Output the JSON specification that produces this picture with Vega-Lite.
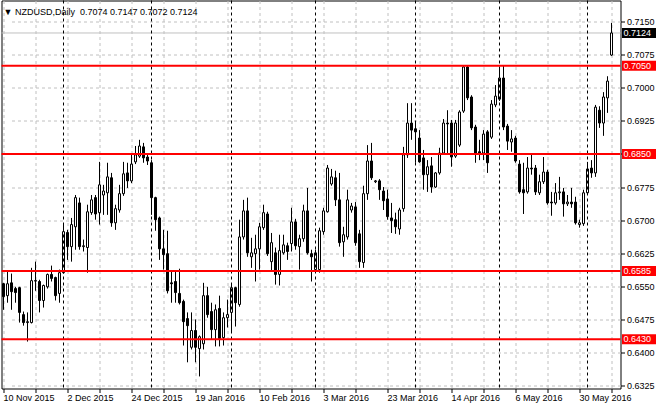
{
  "$schema": "https://vega.github.io/schema/vega-lite/v6.json",
  "width": 619,
  "height": 388,
  "autosize": "none",
  "padding": {"left": 1.5, "top": 0.5, "right": 39.5, "bottom": 21.5},
  "background": "#ffffff",
  "title": {"text": "▼ NZDUSD,Daily\u00a0\u00a00.7074 0.7147 0.7072 0.7124", "anchor": "start", "frame": "group", "orient": "top", "offset": -14, "dy": 10, "baseline": "alphabetic", "fontSize": 9, "fontWeight": "normal", "color": "#000000", "font": "Liberation Sans", "dx": 2},
  "config": {
    "view": {"stroke": "#000000", "strokeWidth": 1},
    "font": "Liberation Sans"
  },
  "datasets": {
    "candles": [
      {"d":"2015-11-10","o":0.6556,"h":0.6558,"l":0.6497,"c":0.6527},
      {"d":"2015-11-11","o":0.6529,"h":0.6583,"l":0.6513,"c":0.6556},
      {"d":"2015-11-12","o":0.6558,"h":0.6579,"l":0.6497,"c":0.6538},
      {"d":"2015-11-13","o":0.6545,"h":0.6549,"l":0.6513,"c":0.6536},
      {"d":"2015-11-16","o":0.6547,"h":0.6549,"l":0.6468,"c":0.6491},
      {"d":"2015-11-17","o":0.6486,"h":0.6493,"l":0.6461,"c":0.6468},
      {"d":"2015-11-18","o":0.6468,"h":0.6491,"l":0.6425,"c":0.6470},
      {"d":"2015-11-19","o":0.6468,"h":0.6592,"l":0.6466,"c":0.6563},
      {"d":"2015-11-20","o":0.6563,"h":0.6606,"l":0.6540,"c":0.6562},
      {"d":"2015-11-23","o":0.6561,"h":0.6565,"l":0.6491,"c":0.6518},
      {"d":"2015-11-24","o":0.6518,"h":0.6554,"l":0.6502,"c":0.6552},
      {"d":"2015-11-25","o":0.6549,"h":0.6579,"l":0.6545,"c":0.6577},
      {"d":"2015-11-26","o":0.6577,"h":0.6597,"l":0.6561,"c":0.6568},
      {"d":"2015-11-27","o":0.6570,"h":0.6572,"l":0.6518,"c":0.6529},
      {"d":"2015-11-30","o":0.6534,"h":0.6588,"l":0.6513,"c":0.6581},
      {"d":"2015-12-01","o":0.6581,"h":0.6692,"l":0.6579,"c":0.6674},
      {"d":"2015-12-02","o":0.6672,"h":0.6678,"l":0.6610,"c":0.6640},
      {"d":"2015-12-03","o":0.6640,"h":0.6705,"l":0.6606,"c":0.6690},
      {"d":"2015-12-04","o":0.6685,"h":0.6757,"l":0.6633,"c":0.6751},
      {"d":"2015-12-07","o":0.6739,"h":0.6751,"l":0.6633,"c":0.6640},
      {"d":"2015-12-08","o":0.6640,"h":0.6656,"l":0.6629,"c":0.6642},
      {"d":"2015-12-09","o":0.6638,"h":0.6735,"l":0.6581,"c":0.6719},
      {"d":"2015-12-10","o":0.6717,"h":0.6757,"l":0.6712,"c":0.6746},
      {"d":"2015-12-11","o":0.6751,"h":0.6757,"l":0.6701,"c":0.6714},
      {"d":"2015-12-14","o":0.6717,"h":0.6832,"l":0.6690,"c":0.6780},
      {"d":"2015-12-15","o":0.6757,"h":0.6780,"l":0.6712,"c":0.6766},
      {"d":"2015-12-16","o":0.6762,"h":0.6830,"l":0.6712,"c":0.6798},
      {"d":"2015-12-17","o":0.6796,"h":0.6807,"l":0.6685,"c":0.6694},
      {"d":"2015-12-18","o":0.6694,"h":0.6735,"l":0.6678,"c":0.6726},
      {"d":"2015-12-21","o":0.6723,"h":0.6780,"l":0.6717,"c":0.6760},
      {"d":"2015-12-22","o":0.6760,"h":0.6832,"l":0.6755,"c":0.6805},
      {"d":"2015-12-23","o":0.6807,"h":0.6830,"l":0.6773,"c":0.6789},
      {"d":"2015-12-24","o":0.6789,"h":0.6848,"l":0.6784,"c":0.6827},
      {"d":"2015-12-28","o":0.6832,"h":0.6868,"l":0.6827,"c":0.6848},
      {"d":"2015-12-29","o":0.6845,"h":0.6882,"l":0.6841,"c":0.6868},
      {"d":"2015-12-30","o":0.6866,"h":0.6875,"l":0.6830,"c":0.6841},
      {"d":"2015-12-31","o":0.6843,"h":0.6852,"l":0.6825,"c":0.6834},
      {"d":"2016-01-04","o":0.6830,"h":0.6836,"l":0.6712,"c":0.6751},
      {"d":"2016-01-05","o":0.6751,"h":0.6753,"l":0.6676,"c":0.6701},
      {"d":"2016-01-06","o":0.6705,"h":0.6708,"l":0.6610,"c":0.6635},
      {"d":"2016-01-07","o":0.6635,"h":0.6678,"l":0.6588,"c":0.6622},
      {"d":"2016-01-08","o":0.6624,"h":0.6676,"l":0.6534,"c":0.6540},
      {"d":"2016-01-11","o":0.6558,"h":0.6583,"l":0.6513,"c":0.6556},
      {"d":"2016-01-12","o":0.6561,"h":0.6583,"l":0.6513,"c":0.6536},
      {"d":"2016-01-13","o":0.6534,"h":0.6590,"l":0.6509,"c":0.6513},
      {"d":"2016-01-14","o":0.6516,"h":0.6520,"l":0.6416,"c":0.6470},
      {"d":"2016-01-15","o":0.6477,"h":0.6491,"l":0.6378,"c":0.6461},
      {"d":"2016-01-18","o":0.6412,"h":0.6491,"l":0.6407,"c":0.6450},
      {"d":"2016-01-19","o":0.6450,"h":0.6475,"l":0.6378,"c":0.6412},
      {"d":"2016-01-20","o":0.6409,"h":0.6439,"l":0.6346,"c":0.6436},
      {"d":"2016-01-21","o":0.6420,"h":0.6558,"l":0.6407,"c":0.6529},
      {"d":"2016-01-22","o":0.6529,"h":0.6549,"l":0.6479,"c":0.6486},
      {"d":"2016-01-25","o":0.6493,"h":0.6513,"l":0.6430,"c":0.6452},
      {"d":"2016-01-26","o":0.6452,"h":0.6509,"l":0.6414,"c":0.6497},
      {"d":"2016-01-27","o":0.6500,"h":0.6529,"l":0.6414,"c":0.6432},
      {"d":"2016-01-28","o":0.6434,"h":0.6491,"l":0.6416,"c":0.6479},
      {"d":"2016-01-29","o":0.6479,"h":0.6520,"l":0.6457,"c":0.6486},
      {"d":"2016-02-01","o":0.6491,"h":0.6554,"l":0.6445,"c":0.6547},
      {"d":"2016-02-02","o":0.6547,"h":0.6549,"l":0.6459,"c":0.6513},
      {"d":"2016-02-03","o":0.6509,"h":0.6701,"l":0.6504,"c":0.6662},
      {"d":"2016-02-04","o":0.6662,"h":0.6746,"l":0.6656,"c":0.6721},
      {"d":"2016-02-05","o":0.6721,"h":0.6751,"l":0.6617,"c":0.6626},
      {"d":"2016-02-08","o":0.6617,"h":0.6660,"l":0.6592,"c":0.6626},
      {"d":"2016-02-09","o":0.6624,"h":0.6667,"l":0.6561,"c":0.6635},
      {"d":"2016-02-10","o":0.6635,"h":0.6694,"l":0.6588,"c":0.6685},
      {"d":"2016-02-11","o":0.6683,"h":0.6735,"l":0.6678,"c":0.6717},
      {"d":"2016-02-12","o":0.6714,"h":0.6719,"l":0.6619,"c":0.6624},
      {"d":"2016-02-15","o":0.6606,"h":0.6671,"l":0.6583,"c":0.6649},
      {"d":"2016-02-16","o":0.6626,"h":0.6638,"l":0.6554,"c":0.6577},
      {"d":"2016-02-17","o":0.6577,"h":0.6667,"l":0.6552,"c":0.6631},
      {"d":"2016-02-18","o":0.6626,"h":0.6667,"l":0.6622,"c":0.6644},
      {"d":"2016-02-19","o":0.6642,"h":0.6649,"l":0.6610,"c":0.6629},
      {"d":"2016-02-22","o":0.6647,"h":0.6728,"l":0.6629,"c":0.6696},
      {"d":"2016-02-23","o":0.6696,"h":0.6703,"l":0.6633,"c":0.6642},
      {"d":"2016-02-24","o":0.6640,"h":0.6667,"l":0.6588,"c":0.6658},
      {"d":"2016-02-25","o":0.6658,"h":0.6735,"l":0.6651,"c":0.6721},
      {"d":"2016-02-26","o":0.6721,"h":0.6773,"l":0.6622,"c":0.6626},
      {"d":"2016-02-29","o":0.6624,"h":0.6633,"l":0.6561,"c":0.6617},
      {"d":"2016-03-01","o":0.6588,"h":0.6633,"l":0.6583,"c":0.6626},
      {"d":"2016-03-02","o":0.6588,"h":0.6683,"l":0.6581,"c":0.6676},
      {"d":"2016-03-03","o":0.6674,"h":0.6728,"l":0.6667,"c":0.6721},
      {"d":"2016-03-04","o":0.6719,"h":0.6825,"l":0.6717,"c":0.6818},
      {"d":"2016-03-06","o":0.6782,"h":0.6816,"l":0.6778,"c":0.6798},
      {"d":"2016-03-07","o":0.6796,"h":0.6812,"l":0.6732,"c":0.6746},
      {"d":"2016-03-08","o":0.6746,"h":0.6807,"l":0.6640,"c":0.6649},
      {"d":"2016-03-09","o":0.6651,"h":0.6685,"l":0.6617,"c":0.6667},
      {"d":"2016-03-10","o":0.6662,"h":0.6769,"l":0.6656,"c":0.6746},
      {"d":"2016-03-11","o":0.6723,"h":0.6739,"l":0.6717,"c":0.6732},
      {"d":"2016-03-13","o":0.6730,"h":0.6741,"l":0.6642,"c":0.6649},
      {"d":"2016-03-14","o":0.6669,"h":0.6678,"l":0.6592,"c":0.6606},
      {"d":"2016-03-15","o":0.6604,"h":0.6778,"l":0.6592,"c":0.6760},
      {"d":"2016-03-16","o":0.6760,"h":0.6870,"l":0.6746,"c":0.6834},
      {"d":"2016-03-17","o":0.6834,"h":0.6875,"l":0.6791,"c":0.6796},
      {"d":"2016-03-18","o":0.6787,"h":0.6791,"l":0.6784,"c":0.6789},
      {"d":"2016-03-21","o":0.6789,"h":0.6793,"l":0.6746,"c":0.6769},
      {"d":"2016-03-22","o":0.6766,"h":0.6775,"l":0.6723,"c":0.6744},
      {"d":"2016-03-23","o":0.6748,"h":0.6769,"l":0.6701,"c":0.6708},
      {"d":"2016-03-24","o":0.6705,"h":0.6739,"l":0.6671,"c":0.6699},
      {"d":"2016-03-25","o":0.6701,"h":0.6717,"l":0.6669,"c":0.6685},
      {"d":"2016-03-28","o":0.6680,"h":0.6728,"l":0.6667,"c":0.6723},
      {"d":"2016-03-29","o":0.6726,"h":0.6866,"l":0.6719,"c":0.6848},
      {"d":"2016-03-30","o":0.6848,"h":0.6965,"l":0.6841,"c":0.6920},
      {"d":"2016-03-31","o":0.6920,"h":0.6965,"l":0.6882,"c":0.6904},
      {"d":"2016-04-01","o":0.6907,"h":0.6922,"l":0.6830,"c":0.6900},
      {"d":"2016-04-04","o":0.6886,"h":0.6904,"l":0.6830,"c":0.6832},
      {"d":"2016-04-05","o":0.6841,"h":0.6859,"l":0.6769,"c":0.6803},
      {"d":"2016-04-06","o":0.6803,"h":0.6836,"l":0.6764,"c":0.6821},
      {"d":"2016-04-07","o":0.6823,"h":0.6843,"l":0.6762,"c":0.6775},
      {"d":"2016-04-08","o":0.6775,"h":0.6809,"l":0.6773,"c":0.6807},
      {"d":"2016-04-11","o":0.6807,"h":0.6864,"l":0.6803,"c":0.6852},
      {"d":"2016-04-12","o":0.6852,"h":0.6929,"l":0.6848,"c":0.6920},
      {"d":"2016-04-13","o":0.6920,"h":0.6949,"l":0.6848,"c":0.6918},
      {"d":"2016-04-14","o":0.6920,"h":0.6927,"l":0.6821,"c":0.6843},
      {"d":"2016-04-15","o":0.6845,"h":0.6927,"l":0.6841,"c":0.6920},
      {"d":"2016-04-18","o":0.6870,"h":0.6949,"l":0.6866,"c":0.6945},
      {"d":"2016-04-19","o":0.6947,"h":0.7049,"l":0.6943,"c":0.7047},
      {"d":"2016-04-20","o":0.7047,"h":0.7049,"l":0.6972,"c":0.6977},
      {"d":"2016-04-21","o":0.6979,"h":0.6983,"l":0.6904,"c":0.6909},
      {"d":"2016-04-22","o":0.6911,"h":0.6916,"l":0.6830,"c":0.6852},
      {"d":"2016-04-25","o":0.6855,"h":0.6882,"l":0.6836,"c":0.6852},
      {"d":"2016-04-26","o":0.6852,"h":0.6904,"l":0.6836,"c":0.6895},
      {"d":"2016-04-27","o":0.6900,"h":0.6904,"l":0.6807,"c":0.6830},
      {"d":"2016-04-28","o":0.6888,"h":0.6972,"l":0.6884,"c":0.6963},
      {"d":"2016-04-29","o":0.6961,"h":0.7006,"l":0.6956,"c":0.6981},
      {"d":"2016-05-02","o":0.6974,"h":0.7044,"l":0.6970,"c":0.7022},
      {"d":"2016-05-03","o":0.7022,"h":0.7051,"l":0.6904,"c":0.6911},
      {"d":"2016-05-04","o":0.6913,"h":0.6918,"l":0.6859,"c":0.6879},
      {"d":"2016-05-05","o":0.6877,"h":0.6904,"l":0.6855,"c":0.6884},
      {"d":"2016-05-06","o":0.6886,"h":0.6891,"l":0.6830,"c":0.6834},
      {"d":"2016-05-09","o":0.6827,"h":0.6836,"l":0.6760,"c":0.6764},
      {"d":"2016-05-10","o":0.6769,"h":0.6830,"l":0.6714,"c":0.6762},
      {"d":"2016-05-11","o":0.6764,"h":0.6843,"l":0.6760,"c":0.6818},
      {"d":"2016-05-12","o":0.6818,"h":0.6848,"l":0.6803,"c":0.6816},
      {"d":"2016-05-13","o":0.6818,"h":0.6825,"l":0.6757,"c":0.6764},
      {"d":"2016-05-16","o":0.6762,"h":0.6803,"l":0.6757,"c":0.6787},
      {"d":"2016-05-17","o":0.6787,"h":0.6843,"l":0.6782,"c":0.6809},
      {"d":"2016-05-18","o":0.6809,"h":0.6814,"l":0.6735,"c":0.6739},
      {"d":"2016-05-19","o":0.6741,"h":0.6764,"l":0.6710,"c":0.6739},
      {"d":"2016-05-20","o":0.6739,"h":0.6784,"l":0.6735,"c":0.6762},
      {"d":"2016-05-23","o":0.6762,"h":0.6798,"l":0.6746,"c":0.6764},
      {"d":"2016-05-24","o":0.6764,"h":0.6773,"l":0.6708,"c":0.6737},
      {"d":"2016-05-25","o":0.6737,"h":0.6757,"l":0.6732,"c":0.6741},
      {"d":"2016-05-26","o":0.6741,"h":0.6773,"l":0.6728,"c":0.6737},
      {"d":"2016-05-27","o":0.6741,"h":0.6753,"l":0.6690,"c":0.6694},
      {"d":"2016-05-30","o":0.6690,"h":0.6701,"l":0.6683,"c":0.6694},
      {"d":"2016-05-31","o":0.6692,"h":0.6769,"l":0.6687,"c":0.6762},
      {"d":"2016-06-01","o":0.6762,"h":0.6832,"l":0.6757,"c":0.6816},
      {"d":"2016-06-02","o":0.6818,"h":0.6836,"l":0.6796,"c":0.6807},
      {"d":"2016-06-03","o":0.6807,"h":0.6961,"l":0.6798,"c":0.6956},
      {"d":"2016-06-06","o":0.6949,"h":0.6958,"l":0.6909,"c":0.6920},
      {"d":"2016-06-07","o":0.6920,"h":0.6990,"l":0.6891,"c":0.6979},
      {"d":"2016-06-08","o":0.6977,"h":0.7026,"l":0.6943,"c":0.7015},
      {"d":"2016-06-09","o":0.7074,"h":0.7147,"l":0.7072,"c":0.7124}
    ],
    "levels": [{"p": 0.7050}, {"p": 0.6850}, {"p": 0.6585}, {"p": 0.6430}],
    "bid": [{"p": 0.7124}]
  },
  "data": {"name": "candles"},
  "layer": [
    {
      "data": {"name": "bid"},
      "mark": {"type": "rule", "color": "#c0c0c0", "strokeWidth": 1},
      "encoding": {
        "y": {"field": "p", "type": "quantitative", "scale": {"domain": [0.631865, 0.719757], "zero": false, "nice": false},
          "axis": {"orient": "right", "values": [0.6325, 0.64, 0.6475, 0.655, 0.6625, 0.67, 0.6775, 0.685, 0.6925, 0.7, 0.7075, 0.715], "tickCount": 40, "labelExpr": "abs(datum.value - 0.685) < 0.00001 ? '' : format(datum.value, '.4f')", "title": null, "grid": true, "gridColor": "#c0c0c0", "gridDash": [3, 3], "gridWidth": 1, "domain": false, "ticks": true, "tickColor": "#000000", "tickSize": 4, "labelPadding": 2, "labelFontSize": 9, "labelFont": "Liberation Sans", "labelColor": "#000000", "labelFlush": false, "labelBound": false, "labelOverlap": false}}
      }
    },
    {
      "mark": {"type": "rule", "color": "#000000", "strokeWidth": 1},
      "encoding": {
        "x": {"field": "d", "type": "ordinal", "sort": null,
          "scale": {"type": "band", "paddingInner": 0, "paddingOuter": 0, "range": [0, 612]},
          "axis": {"title": null, "values": ["2015-11-10","2015-11-20","2015-12-02","2015-12-14","2015-12-24","2016-01-07","2016-01-19","2016-01-29","2016-02-10","2016-02-22","2016-03-03","2016-03-13","2016-03-23","2016-04-04","2016-04-14","2016-04-26","2016-05-06","2016-05-18","2016-05-30","2016-06-09"],
            "labelExpr": "indexof(['2015-11-10','2015-12-02','2015-12-24','2016-01-19','2016-02-10','2016-03-03','2016-03-23','2016-04-14','2016-05-06','2016-05-30'], datum.value) >= 0 ? utcFormat(toDate(datum.value), '%-d %b %Y') : ''",
            "bandPosition": 0.5, "grid": true, "gridColor": "#c0c0c0", "gridDash": [3, 3], "gridWidth": 1, "domain": false, "ticks": true, "tickColor": "#000000", "tickSize": 4, "labelAlign": "left", "labelAngle": 0, "labelPadding": 1, "labelFontSize": 9, "labelFont": "Liberation Sans", "labelColor": "#000000", "labelOverlap": false, "labelBound": false, "labelFlush": false}},
        "y": {"field": "l", "type": "quantitative"},
        "y2": {"field": "h"}
      }
    },
    {
      "mark": {"type": "bar", "width": 2, "stroke": "#000000", "strokeWidth": 1},
      "encoding": {
        "x": {"field": "d", "type": "ordinal", "sort": null},
        "y": {"field": "o", "type": "quantitative"},
        "y2": {"field": "c"},
        "fill": {"condition": {"test": "datum.c >= datum.o", "value": "#ffffff"}, "value": "#000000"}
      }
    },
    {
      "mark": {"type": "rule", "color": "#000000", "strokeWidth": 1, "strokeDash": [3, 3]},
      "encoding": {
        "x": {"field": "d", "type": "ordinal", "sort": null},
        "strokeOpacity": {"condition": {"test": "indexof(['2015-12-01','2016-01-04','2016-02-01','2016-03-01','2016-04-01','2016-05-02','2016-06-01'], datum.d) >= 0", "value": 1}, "value": 0}
      }
    },
    {
      "data": {"name": "levels"},
      "mark": {"type": "rule", "color": "#ff0000", "strokeWidth": 2},
      "encoding": {"y": {"field": "p", "type": "quantitative"}}
    },
    {
      "data": {"name": "levels"},
      "mark": {"type": "point", "shape": "M0.075,-0.25L1.775,-0.25L1.775,0.25L0.075,0.25Z", "size": 1600, "filled": true, "fill": "#ff0000", "opacity": 1, "strokeWidth": 0},
      "encoding": {"x": {"value": "width"}, "y": {"field": "p", "type": "quantitative"}}
    },
    {
      "data": {"name": "bid"},
      "mark": {"type": "point", "shape": "M0.075,-0.25L1.775,-0.25L1.775,0.25L0.075,0.25Z", "size": 1600, "filled": true, "fill": "#000000", "opacity": 1, "strokeWidth": 0},
      "encoding": {"x": {"value": "width"}, "y": {"field": "p", "type": "quantitative"}}
    },
    {
      "data": {"name": "levels"},
      "mark": {"type": "text", "align": "left", "baseline": "middle", "dx": 3, "fontSize": 9, "font": "Liberation Sans", "color": "#ffffff"},
      "encoding": {"x": {"value": "width"}, "y": {"field": "p", "type": "quantitative"}, "text": {"field": "p", "format": ".4f"}}
    },
    {
      "data": {"name": "bid"},
      "mark": {"type": "text", "align": "left", "baseline": "middle", "dx": 3, "fontSize": 9, "font": "Liberation Sans", "color": "#ffffff"},
      "encoding": {"x": {"value": "width"}, "y": {"field": "p", "type": "quantitative"}, "text": {"field": "p", "format": ".4f"}}
    }
  ]
}
